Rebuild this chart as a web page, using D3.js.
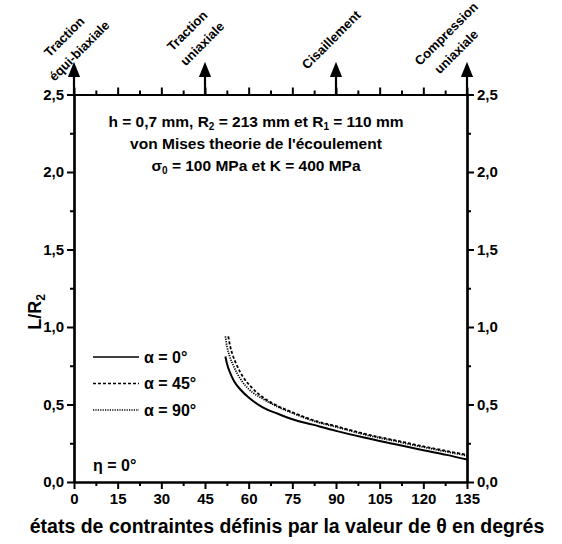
<!DOCTYPE html>
<html>
<head>
<meta charset="utf-8">
<script src="https://cdn.jsdelivr.net/npm/d3@7"></script>
<style>
  body { margin: 0; background: #fff; }
  svg { font-family: "Liberation Sans", Arial, sans-serif; font-weight: bold; }
</style>
</head>
<body>
<div id="chart"></div>
<script>
// curves: L/R2 against theta (deg)
const thetaA0 = [52, 52.6, 53.5, 55, 57, 60, 65, 70, 75, 82, 90, 100, 110, 120, 128, 135];
const valA0   = [0.81, 0.76, 0.71, 0.65, 0.60, 0.545, 0.48, 0.44, 0.405, 0.37, 0.33, 0.285, 0.245, 0.205, 0.175, 0.145];
const thetaA45 = [53, 53.6, 54.5, 56, 58, 61, 65, 70, 75, 82, 90, 100, 110, 120, 128, 135];
const valA45   = [0.94, 0.88, 0.82, 0.75, 0.68, 0.61, 0.545, 0.49, 0.45, 0.40, 0.36, 0.31, 0.27, 0.23, 0.20, 0.175];
const thetaA90 = [52, 52.6, 53.5, 55, 57, 60, 65, 70, 75, 82, 90, 100, 110, 120, 128, 135];
const valA90   = [0.94, 0.87, 0.81, 0.74, 0.67, 0.60, 0.535, 0.485, 0.445, 0.395, 0.355, 0.305, 0.265, 0.225, 0.195, 0.17];

const seriesNames = ["α = 0°", "α = 45°", "α = 90°"];
const xTicks = [0, 15, 30, 45, 60, 75, 90, 105, 120, 135];
const yTicks = [0, 0.5, 1.0, 1.5, 2.0, 2.5];
const stateThetas = [0, 45, 90, 135];
const stateLabels = [["Traction", "équi-biaxiale"], ["Traction", "uniaxiale"], ["Cisaillement"], ["Compression", "uniaxiale"]];

const W = 562, H = 544;
const mLeft = 74, mRight = 467, mTop = 94.5, mBottom = 482;

const svg = d3.select('#chart').append('svg')
    .attr('width', W).attr('height', H);

const x = d3.scaleLinear().domain([0, 135]).range([mLeft, mRight]);
const y = d3.scaleLinear().domain([0, 2.5]).range([mBottom, mTop]);

const fmt = d => d.toFixed(1).replace('.', ',');
const minorX = d3.range(7.5, 135, 15);
const minorY = d3.range(0.25, 2.5, 0.5);

function styleAxis(g) {
    g.select('.domain').attr('stroke-width', 2.2);
    g.selectAll('.tick line').attr('stroke-width', 2);
    g.selectAll('text').attr('font-size', 15).attr('font-weight', 'bold')
        .attr('font-family', '"Liberation Sans", Arial, sans-serif').attr('fill', '#000');
}

// bottom
svg.append('g').attr('transform', `translate(0,${mBottom})`)
    .call(d3.axisBottom(x).tickValues(xTicks).tickSize(7).tickPadding(4).tickSizeOuter(0))
    .call(styleAxis);
svg.append('g').attr('transform', `translate(0,${mBottom})`)
    .call(d3.axisBottom(x).tickValues(minorX).tickSize(4).tickFormat('').tickSizeOuter(0))
    .call(styleAxis);
// top
svg.append('g').attr('transform', `translate(0,${mTop})`)
    .call(d3.axisTop(x).tickValues(xTicks).tickSize(7).tickFormat('').tickSizeOuter(0))
    .call(styleAxis);
svg.append('g').attr('transform', `translate(0,${mTop})`)
    .call(d3.axisTop(x).tickValues(minorX).tickSize(4).tickFormat('').tickSizeOuter(0))
    .call(styleAxis);
// left
svg.append('g').attr('transform', `translate(${mLeft},0)`)
    .call(d3.axisLeft(y).tickValues(yTicks).tickSize(7).tickPadding(3).tickFormat(fmt).tickSizeOuter(0))
    .call(styleAxis);
svg.append('g').attr('transform', `translate(${mLeft},0)`)
    .call(d3.axisLeft(y).tickValues(minorY).tickSize(4).tickFormat('').tickSizeOuter(0))
    .call(styleAxis);
// right
svg.append('g').attr('transform', `translate(${mRight},0)`)
    .call(d3.axisRight(y).tickValues(yTicks).tickSize(7).tickPadding(3).tickFormat(fmt).tickSizeOuter(0))
    .call(styleAxis);
svg.append('g').attr('transform', `translate(${mRight},0)`)
    .call(d3.axisRight(y).tickValues(minorY).tickSize(4).tickFormat('').tickSizeOuter(0))
    .call(styleAxis);

// arrows for the stress states
svg.append('defs').append('marker')
    .attr('id', 'arr').attr('viewBox', '0 0 10 10')
    .attr('refX', 5).attr('refY', 5)
    .attr('markerWidth', 7).attr('markerHeight', 9)
    .attr('orient', 'auto')
    .append('path').attr('d', 'M0,1 L10,5 L0,9 Z').attr('fill', '#000');

svg.append('g').selectAll('line').data(stateThetas).join('line')
    .attr('x1', d => x(d)).attr('x2', d => x(d))
    .attr('y1', mTop).attr('y2', mTop - 25)
    .attr('stroke', '#000').attr('stroke-width', 2.2)
    .attr('marker-end', 'url(#arr)');

// label line centers relative to arrow x, mTop
const labelPos = [
    [[-9, -57], [6, -43]],
    [[-17, -63], [-2, -50]],
    [[-4, -54]],
    [[-20, -60], [-10, -42]]
];
stateLabels.forEach((lines, i) => {
    lines.forEach((t, j) => {
        const [dx, dy] = labelPos[i][j];
        const cx = x(stateThetas[i]) + dx, cy = mTop + dy;
        svg.append('text')
            .attr('transform', `translate(${cx},${cy}) rotate(-45)`)
            .attr('text-anchor', 'middle')
            .attr('dominant-baseline', 'middle')
            .attr('font-size', 13)
            .text(t);
    });
});

// curves
const line = d3.line()
    .x(d => x(d[0])).y(d => y(d[1]))
    .curve(d3.curveMonotoneX);

const series = [
    {name: seriesNames[0], pts: d3.zip(thetaA0, valA0), dash: null, w: 2},
    {name: seriesNames[1], pts: d3.zip(thetaA45, valA45), dash: '3,2', w: 1.8},
    {name: seriesNames[2], pts: d3.zip(thetaA90, valA90), dash: '1.2,1.2', w: 1.8}
];

svg.append('g').selectAll('path').data(series).join('path')
    .attr('d', d => line(d.pts))
    .attr('fill', 'none')
    .attr('stroke', '#000')
    .attr('stroke-width', d => d.w)
    .attr('stroke-dasharray', d => d.dash);

// legend
const leg = svg.append('g').selectAll('g').data(series).join('g')
    .attr('transform', (d, i) => `translate(93,${357 + i * 26.5})`);
leg.append('line')
    .attr('x1', 0).attr('x2', 46)
    .attr('stroke', '#000')
    .attr('stroke-width', d => d.w - 0.3)
    .attr('stroke-dasharray', d => d.dash);
leg.append('text')
    .attr('x', 51).attr('dy', '0.35em')
    .attr('font-size', 16)
    .text(d => d.name);

svg.append('text').attr('x', 93).attr('y', 471)
    .attr('font-size', 16).text('η = 0°');

// annotations
const ann = svg.append('g').attr('text-anchor', 'middle').attr('font-size', 15.5);
const a1 = ann.append('text').attr('x', 256).attr('y', 127);
a1.append('tspan').text('h = 0,7 mm, R');
a1.append('tspan').attr('font-size', 10).attr('dy', 3).text('2');
a1.append('tspan').attr('dy', -3).text(' = 213 mm et R');
a1.append('tspan').attr('font-size', 10).attr('dy', 3).text('1');
a1.append('tspan').attr('dy', -3).text(' = 110 mm');
ann.append('text').attr('x', 256).attr('y', 149).text("von Mises theorie de l'écoulement");
const a3 = ann.append('text').attr('x', 256).attr('y', 171);
a3.append('tspan').text('σ');
a3.append('tspan').attr('font-size', 10).attr('dy', 3).text('0');
a3.append('tspan').attr('dy', -3).text(' = 100 MPa et K = 400 MPa');

// axis titles
const yl = svg.append('text')
    .attr('transform', `translate(41,312) rotate(-90)`)
    .attr('text-anchor', 'middle')
    .attr('font-size', 18);
yl.append('tspan').text('L/R');
yl.append('tspan').attr('font-size', 12).attr('dy', 4).text('2');

svg.append('text')
    .attr('x', 287).attr('y', 533)
    .attr('text-anchor', 'middle')
    .attr('font-size', 19.5)
    .text('états de contraintes définis par la valeur de θ en degrés');
</script>
</body>
</html>
